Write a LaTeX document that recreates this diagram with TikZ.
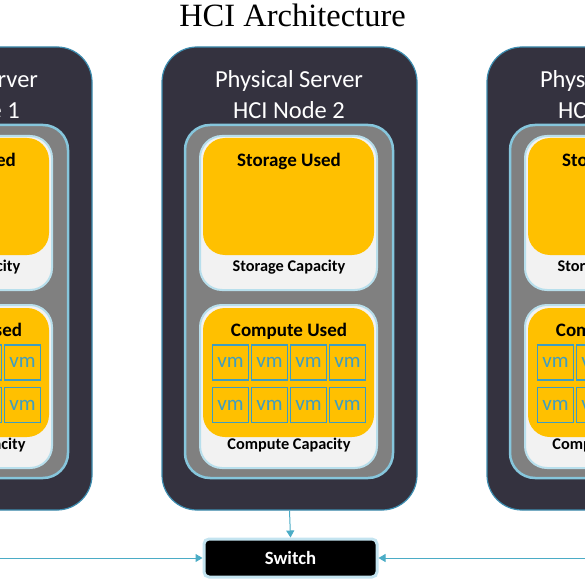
\documentclass[tikz,border=0pt]{standalone}
\usepackage{fontspec}
\setmainfont{Carlito}
\newfontfamily\titlefont{Liberation Serif}
\usetikzlibrary{arrows.meta,positioning,calc}
\definecolor{srvdark}{HTML}{34323F}
\definecolor{srvedge}{HTML}{3D8DB0}
\definecolor{trayfill}{HTML}{808080}
\definecolor{trayedge}{HTML}{86C6DC}
\definecolor{cardfill}{HTML}{F2F2F2}
\definecolor{cardedge}{HTML}{B8DFEC}
\definecolor{usedfill}{HTML}{FFC000}
\definecolor{vmblue}{HTML}{3E9DC2}
\definecolor{linkblue}{HTML}{4BACC6}
\definecolor{swedge}{HTML}{C4E4F0}
\tikzset{
  server/.style={draw=srvedge, line width=1.2pt, fill=srvdark, rounded corners=35pt,
                 inner sep=0pt, minimum width=255pt, minimum height=463pt},
  srvlbl/.style={text=white, align=center, font=\fontsize{24.5}{31}\selectfont},
  tray/.style={draw=trayedge, line width=2.5pt, fill=trayfill, rounded corners=25pt,
               inner sep=0pt, minimum width=208pt, minimum height=353pt},
  card/.style={draw=cardedge, line width=2pt, fill=cardfill, rounded corners=22pt,
               inner sep=0pt, minimum width=177pt},
  used/.style={fill=usedfill, rounded corners=22pt, inner sep=0pt, minimum width=171pt},
  usedlbl/.style={font=\bfseries\fontsize{19}{19}\selectfont},
  caplbl/.style={font=\bfseries\fontsize{16.3}{16.3}\selectfont},
  vmbox/.style={draw=vmblue, line width=1.3pt, inner sep=0pt, minimum width=36pt,
                minimum height=35pt, text=vmblue, font=\fontsize{21}{21}\selectfont},
  switchbox/.style={draw=swedge, line width=3pt, fill=black, rounded corners=5pt,
                    minimum width=173pt, minimum height=38pt, text=white,
                    font=\bfseries\fontsize{18.7}{18.7}\selectfont},
  link/.style={draw=linkblue, line width=1pt, -{Triangle[length=7pt,width=8pt]}},
  title/.style={font=\titlefont\fontsize{32.5}{32.5}\selectfont},
}
\begin{document}
\begin{tikzpicture}[x=1pt, y=-1pt]
  \useasboundingbox (0,0) rectangle (585,585);
  \clip (0,0) rectangle (585,585);
  \node[title, anchor=base] (title) at (292.5,27) {HCI Architecture};
  % one server per node
  \foreach \n/\cx in {1/-36, 2/289, 3/614} {
    \node[server] (srv\n) at ({\cx+0.5},278.5) {};
    \node[srvlbl] (lbl\n) at (\cx,94.5) {Physical Server\\HCI Node \n};
    \node[tray] (tray\n) at (\cx,301.5) {};
    % storage
    \node[card, minimum height=154pt] (sto\n) at ({\cx-0.5},213) {};
    \node[used, minimum height=117pt] (stoU\n) at ({\cx-0.5},196.5) {};
    \node[usedlbl] (stoL\n) at (\cx,161) {Storage Used};
    \node[caplbl] (stoC\n) at (\cx,267) {Storage Capacity};
    % compute
    \node[card, minimum height=163pt] (cmp\n) at ({\cx-0.5},386.5) {};
    \node[used, minimum height=129pt] (cmpU\n) at ({\cx-0.5},372.5) {};
    \node[usedlbl] (cmpL\n) at (\cx,331) {Compute Used};
    \node[caplbl] (cmpC\n) at (\cx,445) {Compute Capacity};
    \foreach \c [count=\i] in {-58.5,-19.5,19.5,58.5}
      \foreach \r [count=\j] in {362.5,405}
        \node[vmbox] (vm\n-\i-\j) at ({\cx+\c},\r) {vm};
  }
  \node[switchbox] (sw) at (290.5,558) {Switch};
  \draw[link] (srv2.south) -- (sw.north);
  \draw[link] (srv1.south) |- (sw.west);
  \draw[link] (srv3.south) |- (sw.east);
\end{tikzpicture}
\end{document}
